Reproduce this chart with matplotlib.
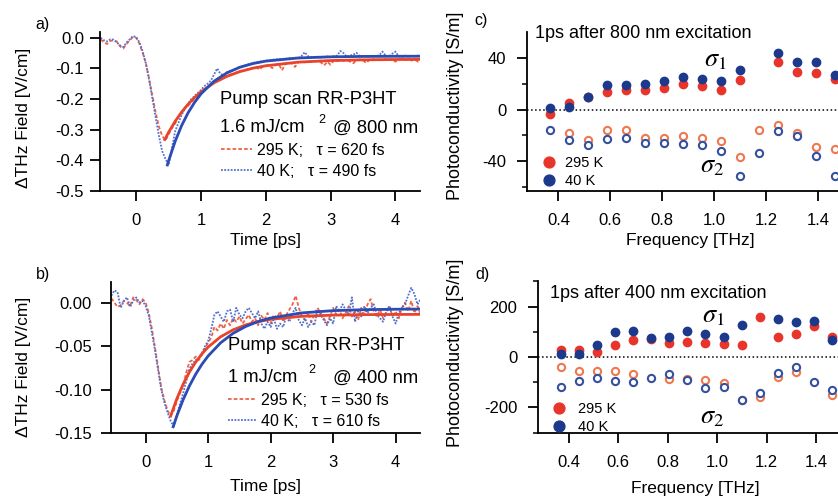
import numpy as np
import matplotlib
matplotlib.use('Agg')
import matplotlib.pyplot as plt

plt.rcParams['font.family'] = ['Liberation Sans', 'DejaVu Sans']
plt.rcParams['mathtext.fontset'] = 'stix'
plt.rcParams['axes.unicode_minus'] = False

W, H = 838, 497
nan = np.nan

# ---- pump scans (panels a, b) ----
t_scan = [-0.55, -0.50, -0.45, -0.40, -0.35, -0.30, -0.25, -0.20, -0.15, -0.10,
          -0.05, 0.00, 0.05, 0.10, 0.15, 0.20, 0.25, 0.30, 0.35, 0.40,
          0.45, 0.50, 0.55, 0.60, 0.65, 0.70, 0.75, 0.80, 0.85, 0.90,
          0.95, 1.00, 1.05, 1.10, 1.15, 1.20, 1.25, 1.30, 1.35, 1.40,
          1.45, 1.50, 1.55, 1.60, 1.65, 1.70, 1.75, 1.80, 1.85, 1.90,
          1.95, 2.00, 2.05, 2.10, 2.15, 2.20, 2.25, 2.30, 2.35, 2.40,
          2.45, 2.50, 2.55, 2.60, 2.65, 2.70, 2.75, 2.80, 2.85, 2.90,
          2.95, 3.00, 3.05, 3.10, 3.15, 3.20, 3.25, 3.30, 3.35, 3.40,
          3.45, 3.50, 3.55, 3.60, 3.65, 3.70, 3.75, 3.80, 3.85, 3.90,
          3.95, 4.00, 4.05, 4.10, 4.15, 4.20, 4.25, 4.30, 4.35, 4.40]

a_295 = [-0.005, -0.015, -0.020, -0.010, -0.008, -0.012, -0.028, -0.035, -0.020, -0.008,
         0.003, 0.000, -0.020, -0.050, -0.085, -0.135, -0.190, -0.245, -0.290, -0.320,
         -0.335, -0.315, -0.295, -0.280, -0.258, -0.245, -0.228, -0.222, -0.210, -0.198,
         -0.192, -0.178, -0.168, -0.160, -0.152, -0.145, -0.140, -0.136, -0.128, -0.124,
         -0.120, -0.118, -0.112, -0.108, -0.106, -0.104, -0.100, -0.098, -0.095, -0.104,
         -0.094, -0.091, -0.090, -0.099, -0.088, -0.086, -0.106, -0.085, -0.082, -0.083,
         -0.095, -0.080, -0.078, -0.080, -0.077, -0.078, -0.076, -0.077, -0.080, -0.090,
         -0.078, -0.088, -0.074, -0.076, -0.073, -0.075, -0.072, -0.078, -0.083, -0.073,
         -0.071, -0.074, -0.082, -0.072, -0.070, -0.073, -0.071, -0.075, -0.069, -0.072,
         -0.070, -0.078, -0.071, -0.069, -0.072, -0.070, -0.074, -0.071, -0.078, -0.070]
a_40 = [0.000, -0.008, -0.012, -0.005, -0.006, -0.015, -0.025, -0.030, -0.015, -0.005,
        0.006, 0.002, -0.015, -0.045, -0.085, -0.140, -0.200, -0.260, -0.320, -0.370,
        -0.395, -0.415, -0.360, -0.305, -0.278, -0.252, -0.232, -0.215, -0.200, -0.190,
        -0.180, -0.170, -0.158, -0.150, -0.140, -0.120, -0.100, -0.118, -0.122, -0.112,
        -0.108, -0.104, -0.100, -0.094, -0.092, -0.088, -0.086, -0.082, -0.080, -0.078,
        -0.076, -0.075, -0.073, -0.072, -0.070, -0.070, -0.068, -0.069, -0.066, -0.067,
        -0.065, -0.066, -0.060, -0.047, -0.060, -0.064, -0.063, -0.062, -0.064, -0.062,
        -0.061, -0.063, -0.060, -0.058, -0.043, -0.050, -0.062, -0.058, -0.055, -0.049,
        -0.060, -0.061, -0.059, -0.062, -0.058, -0.060, -0.057, -0.045, -0.058, -0.061,
        -0.052, -0.045, -0.060, -0.062, -0.058, -0.061, -0.059, -0.060, -0.058, -0.061]

b_295 = [0.005, 0.000, -0.005, -0.003, 0.002, 0.000, -0.004, 0.006, 0.003, -0.002,
         0.004, 0.000, -0.012, -0.030, -0.052, -0.075, -0.098, -0.112, -0.124, -0.130,
         -0.124, -0.113, -0.104, -0.095, -0.080, -0.068, -0.066, -0.062, -0.066, -0.060,
         -0.052, -0.046, -0.040, -0.028, -0.032, -0.024, -0.030, -0.020, -0.026, -0.018,
         -0.022, -0.016, -0.024, -0.019, -0.014, -0.022, -0.018, -0.026, -0.015, -0.020,
         -0.012, -0.024, -0.014, -0.018, -0.010, -0.022, -0.014, -0.008, -0.002, 0.008,
         -0.006, -0.016, -0.020, -0.012, -0.022, -0.014, -0.006, -0.012, -0.018, -0.024,
         -0.016, -0.006, -0.014, -0.008, -0.018, -0.012, -0.004, -0.016, -0.010, -0.020,
         -0.006, -0.014, -0.002, 0.004, -0.010, -0.016, -0.008, -0.018, -0.012, -0.004,
         -0.016, -0.010, -0.018, -0.006, 0.000, -0.010, 0.002, -0.012, -0.004, -0.014]
b_40 = [0.008, 0.014, 0.012, -0.006, 0.002, 0.006, -0.005, 0.002, 0.006, 0.000,
        0.002, -0.004, -0.015, -0.035, -0.055, -0.078, -0.100, -0.115, -0.126, -0.136,
        -0.142, -0.128, -0.116, -0.104, -0.090, -0.076, -0.070, -0.066, -0.064, -0.058,
        -0.050, -0.044, -0.030, -0.014, -0.010, -0.016, -0.022, -0.010, -0.008, -0.022,
        -0.006, -0.014, -0.018, -0.010, -0.006, -0.012, -0.018, -0.010, -0.024, -0.030,
        -0.022, -0.028, -0.018, -0.030, -0.024, -0.028, -0.016, -0.022, -0.012, -0.006,
        -0.020, -0.026, -0.018, -0.028, -0.022, -0.026, -0.008, -0.014, -0.020, -0.026,
        -0.018, -0.024, -0.004, -0.010, -0.002, -0.008, -0.014, 0.006, -0.022, -0.010,
        -0.016, -0.004, -0.012, -0.006, -0.002, -0.014, -0.018, -0.022, -0.010, -0.004,
        -0.016, -0.024, -0.012, -0.006, -0.002, 0.008, 0.017, 0.010, -0.002, 0.004]

# exponential fits
t_fit_tail = [0.5, 0.6, 0.7, 0.8, 0.9, 1.0, 1.2, 1.4, 1.6, 1.8, 2.0, 2.5, 3.0, 3.5, 4.0, 4.4]
a_fit_295_t = [0.44] + t_fit_tail
a_fit_295 = [-0.332, -0.308, -0.2725, -0.2424, -0.2167, -0.1947, -0.1761, -0.1469, -0.1257,
             -0.1103, -0.0992, -0.0912, -0.0794, -0.0742, -0.0719, -0.0708, -0.0704]
a_fit_40_t = [0.48] + t_fit_tail
a_fit_40 = [-0.415, -0.4008, -0.338, -0.2865, -0.2446, -0.2107, -0.1828, -0.1416, -0.1143,
            -0.0961, -0.0840, -0.0760, -0.0658, -0.0621, -0.0607, -0.0603, -0.0601]
b_fit_295_t = [0.40] + t_fit_tail
b_fit_295 = [-0.130, -0.110, -0.0935, -0.0797, -0.0683, -0.0588, -0.051, -0.0392, -0.0312,
             -0.0256, -0.0218, -0.0192, -0.0157, -0.0144, -0.0138, -0.0136, -0.0135]
b_fit_40_t = [0.44] + t_fit_tail
b_fit_40 = [-0.1425, -0.1298, -0.1113, -0.0956, -0.0822, -0.0708, -0.0612, -0.0461, -0.0352,
            -0.0274, -0.0217, -0.0177, -0.0118, -0.0092, -0.0081, -0.0076, -0.0074]

# ---- photoconductivity spectra (panels c, d) ----
freq = [0.366, 0.439, 0.513, 0.586, 0.659, 0.733, 0.806, 0.879,
        0.952, 1.026, 1.099, 1.172, 1.245, 1.318, 1.392, 1.465]

c_s1_295 = [-3.7, 5.2, 9.9, 13.7, 14.8, 15.0, 16.3, 19.4, 18.1, 15.2, 23.2, nan, 36.5, 29.4, 28.1, 23.7]
c_s1_40 = [1.4, 1.9, 10.1, 18.8, 18.8, 20.1, 22.4, 25.0, 23.7, 22.4, 30.9, nan, 43.7, 36.8, 36.8, 27.1]
c_s2_295 = [nan, -17.8, -23.7, -15.8, -15.8, -21.7, -21.7, -20.4, -22.2, -24.7, -37.0, -15.8, -12.2, -17.8, -28.6, -30.6]
c_s2_40 = [-15.8, -23.7, -27.5, -22.9, -21.7, -25.5, -25.5, -26.3, -27.3, -32.4, -51.1, -33.7, -16.5, -20.4, -35.8, -51.1]

d_s1_295 = [27.9, 27.9, 21.4, 47.8, 67.7, 70.0, 57.3, 61.3, 54.5, 51.7, 47.8, 158.0, 78.4, 90.3, 123.4, 81.2]
d_s1_40 = [10.7, 10.7, 47.8, 98.3, 105.0, 74.4, 81.2, 105.0, 91.5, 81.2, 127.4, nan, 151.2, 140.9, 144.9, 67.7]
d_s2_295 = [-38.3, -55.6, -55.6, -55.6, -67.6, nan, -87.5, -87.5, -91.5, -104.7, -171.0, -157.8, -78.1, -58.2, nan, -151.0]
d_s2_40 = [-118.0, -95.5, -82.1, -95.5, -100.8, -84.8, -68.9, -91.5, -121.8, -118.0, -171.0, -144.5, -62.1, -38.3, -100.8, -131.3]

RED_DATA = '#ef6446'
BLUE_DATA = '#5470cc'
RED_FIT = '#e8442c'
BLUE_FIT = '#2a4cb4'
RED_DOT = '#e8352c'
BLUE_DOT = '#1c398c'
RED_OPEN = '#ee7850'
BLUE_OPEN = '#34509e'


def px(x, y):
    return x / W, 1 - y / H


def box(l, t, r, b):
    return [l / W, 1 - b / H, (r - l) / W, (b - t) / H]


def style(ax, ypad):
    for s in ['top', 'right']:
        ax.spines[s].set_visible(False)
    for s in ['left', 'bottom']:
        ax.spines[s].set_linewidth(1.3)
    ax.tick_params(axis='x', direction='out', length=7, width=1.3, pad=8.5, labelsize=12)
    ax.tick_params(axis='y', direction='out', length=7.5, width=1.3, pad=ypad, labelsize=12)
    ax.tick_params(which='minor', length=3.5, width=1.1)


fig = plt.figure(figsize=(W / 100, H / 100), dpi=100)

leg_kw = dict(bbox_transform=fig.transFigure, loc='upper left', frameon=False,
              borderpad=0, borderaxespad=0)

# --- a) ---
ax_a = fig.add_axes(box(100, 32, 420, 191))
l1, = ax_a.plot(t_scan, a_295, color=RED_DATA, lw=1.3, ls=(0, (2, 1.2)))
l2, = ax_a.plot(t_scan, a_40, color=BLUE_DATA, lw=1.3, ls=(0, (1, 0.8)))
ax_a.plot(a_fit_295_t, a_fit_295, color=RED_FIT, lw=2)
ax_a.plot(a_fit_40_t, a_fit_40, color=BLUE_FIT, lw=2)
ax_a.set_xlim(-0.56, 4.38)
ax_a.set_ylim(-0.5, 0.019)
ax_a.set_xticks([0, 1, 2, 3, 4])
ax_a.set_yticks([0.0, -0.1, -0.2, -0.3, -0.4, -0.5])
ax_a.set_yticklabels(['0.0', '-0.1', '-0.2', '-0.3', '-0.4', '-0.5'])
style(ax_a, 4)
ax_a.legend([l1, l2], ['295 K;   τ = 620 fs', '40 K;   τ = 490 fs'],
            bbox_to_anchor=px(221, 143), fontsize=11.5, handlelength=1.95,
            handletextpad=0.3, labelspacing=0.38, **leg_kw)

# --- b) ---
ax_b = fig.add_axes(box(111, 281.7, 420, 433.3))
l3, = ax_b.plot(t_scan, b_295, color=RED_DATA, lw=1.3, ls=(0, (2, 1.2)))
l4, = ax_b.plot(t_scan, b_40, color=BLUE_DATA, lw=1.3, ls=(0, (1, 0.8)))
ax_b.plot(b_fit_295_t, b_fit_295, color=RED_FIT, lw=2)
ax_b.plot(b_fit_40_t, b_fit_40, color=BLUE_FIT, lw=2)
ax_b.set_xlim(-0.555, 4.39)
ax_b.set_ylim(-0.15, 0.024)
ax_b.set_xticks([0, 1, 2, 3, 4])
ax_b.set_yticks([0.0, -0.05, -0.10, -0.15])
ax_b.set_yticklabels(['0.00', '-0.05', '-0.10', '-0.15'])
style(ax_b, 6.5)
ax_b.legend([l3, l4], ['295 K;   τ = 530 fs', '40 K;   τ = 610 fs'],
            bbox_to_anchor=px(228, 393), fontsize=11.5, handlelength=1.75,
            handletextpad=0.3, labelspacing=0.38, **leg_kw)

# --- c) ---
ax_c = fig.add_axes(box(526.7, 32, 838, 191))
ax_c.axhline(0, color='black', ls=':', lw=1.1)
ax_c.plot(freq, c_s2_295, 'o', ms=5.2, mfc='white', mec=RED_OPEN, mew=1.5)
ax_c.plot(freq, c_s2_40, 'o', ms=5.2, mfc='white', mec=BLUE_OPEN, mew=1.5)
p1, = ax_c.plot(freq, c_s1_295, 'o', ms=6, color=RED_DOT)
p2, = ax_c.plot(freq, c_s1_40, 'o', ms=6, color=BLUE_DOT)
ax_c.set_xlim(0.278, 1.476)
ax_c.set_ylim(-63, 60)
ax_c.set_xticks([0.4, 0.6, 0.8, 1.0, 1.2, 1.4])
ax_c.set_xticklabels(['0.4', '0.6', '0.8', '1.0', '1.2', '1.4'])
ax_c.set_yticks([40, 0, -40])
ax_c.set_yticks([20, -20, -60], minor=True)
style(ax_c, 7)
ax_c.legend([p1, p2], ['295 K', '40 K'], bbox_to_anchor=px(542, 156),
            fontsize=10.5, handlelength=0.9, handletextpad=0.7, markerscale=1.3,
            labelspacing=0.3, **leg_kw)

# --- d) ---
ax_d = fig.add_axes(box(538.3, 280.7, 838, 433.3))
ax_d.axhline(0, color='black', ls=':', lw=1.1)
ax_d.plot(freq, d_s2_295, 'o', ms=5.2, mfc='white', mec=RED_OPEN, mew=1.5)
ax_d.plot(freq, d_s2_40, 'o', ms=5.2, mfc='white', mec=BLUE_OPEN, mew=1.5)
p3, = ax_d.plot(freq, d_s1_295, 'o', ms=6, color=RED_DOT)
p4, = ax_d.plot(freq, d_s1_40, 'o', ms=6, color=BLUE_DOT)
ax_d.set_xlim(0.276, 1.489)
ax_d.set_ylim(-303, 303)
ax_d.set_xticks([0.4, 0.6, 0.8, 1.0, 1.2, 1.4])
ax_d.set_xticklabels(['0.4', '0.6', '0.8', '1.0', '1.2', '1.4'])
ax_d.set_yticks([200, 0, -200])
ax_d.set_yticks([100, -100, 300, -300], minor=True)
style(ax_d, 7.5)
ax_d.legend([p3, p4], ['295 K', '40 K'], bbox_to_anchor=px(552, 402),
            fontsize=10.5, handlelength=0.9, handletextpad=0.9, markerscale=1.3,
            labelspacing=0.3, **leg_kw)

# ---- texts ----
lab = dict(fontsize=12.5, ha='center', va='center')
fig.text(*px(23.5, 118), 'ΔTHz Field [V/cm]', rotation=90, **lab)
fig.text(*px(23.5, 367), 'ΔTHz Field [V/cm]', rotation=90, **lab)
fig.text(*px(455, 106), 'Photoconductivity [S/m]', rotation=90, fontsize=13, ha='center', va='center')
fig.text(*px(455, 353), 'Photoconductivity [S/m]', rotation=90, fontsize=13, ha='center', va='center')
fig.text(*px(265, 241), 'Time [ps]', **lab)
fig.text(*px(265, 487), 'Time [ps]', **lab)
fig.text(*px(690, 241), 'Frequency [THz]', **lab)
fig.text(*px(695, 488), 'Frequency [THz]', **lab)

for s, (x, y) in [('a)', (42, 25)), ('b)', (43, 275)), ('c)', (481, 20)), ('d)', (482, 275))]:
    fig.text(*px(x, y), s, fontsize=11.5, ha='center', va='center')

big = dict(fontsize=13.2, ha='left', va='center')
fig.text(*px(220, 99), 'Pump scan RR-P3HT', **big)
fig.text(*px(220, 128), '1.6 mJ/cm', **big)
fig.text(*px(318, 120), '2', fontsize=9, ha='left', va='center')
fig.text(*px(333, 128), '@ 800 nm', **big)
fig.text(*px(228, 346), 'Pump scan RR-P3HT', **big)
fig.text(*px(228, 378), '1 mJ/cm', **big)
fig.text(*px(308, 370), '2', fontsize=9, ha='left', va='center')
fig.text(*px(333, 378), '@ 400 nm', **big)

fig.text(*px(535, 33), '1ps after 800 nm excitation', fontsize=13, ha='left', va='center')
fig.text(*px(550, 293), '1ps after 400 nm excitation', fontsize=13, ha='left', va='center')
sig = dict(fontsize=19, ha='center', va='center')
fig.text(*px(715, 60), r'$\sigma_1$', **sig)
fig.text(*px(712, 166), r'$\sigma_2$', **sig)
fig.text(*px(713, 316), r'$\sigma_1$', **sig)
fig.text(*px(712, 417), r'$\sigma_2$', **sig)

fig.savefig('out.png', dpi=100)
